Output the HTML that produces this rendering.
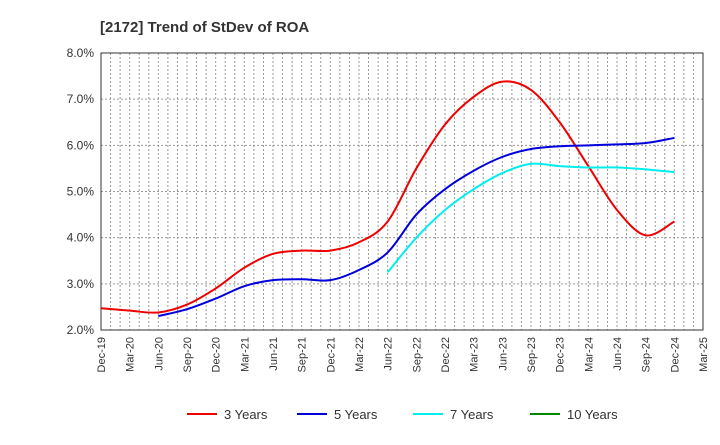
<!DOCTYPE html>
<html><head><meta charset="utf-8"><style>
body{margin:0;background:#fff;font-family:"Liberation Sans",Arial,sans-serif}
</style></head><body>
<svg id="c" width="720" height="440" xmlns="http://www.w3.org/2000/svg">
<text x="100" y="32" font-size="15" font-weight="bold" fill="#333">[2172]  Trend of StDev of ROA</text>
<g id="grid"></g><g id="axes"></g><g id="series"></g><g id="legend"></g>
</svg>
<script>
const xLabels=["Dec-19","Mar-20","Jun-20","Sep-20","Dec-20","Mar-21","Jun-21","Sep-21","Dec-21","Mar-22","Jun-22","Sep-22","Dec-22","Mar-23","Jun-23","Sep-23","Dec-23","Mar-24","Jun-24","Sep-24","Dec-24","Mar-25"];
const yTicks=[2,3,4,5,6,7,8];
const red=[2.47,2.42,2.38,2.55,2.9,3.35,3.65,3.72,3.72,3.9,4.35,5.5,6.45,7.05,7.38,7.2,6.5,5.55,4.6,4.05,4.35];
const blue=[null,null,2.3,2.45,2.68,2.95,3.08,3.1,3.08,3.3,3.68,4.5,5.05,5.45,5.75,5.92,5.98,6.0,6.02,6.05,6.16];
const cyan=[null,null,null,null,null,null,null,null,null,null,3.25,4.0,4.6,5.05,5.4,5.6,5.55,5.52,5.52,5.48,5.42];
const green=[];
const L=101,R=703,T=53,B=330,NS="http://www.w3.org/2000/svg";
const xs=i=>L+(R-L)*i/(xLabels.length-1);
const ys=v=>B-(v-2)/6*(B-T);
function mk(tag,a,p){const e=document.createElementNS(NS,tag);for(const k in a)e.setAttribute(k,a[k]);p.appendChild(e);return e;}
const g=document.getElementById('grid'),ax=document.getElementById('axes'),s=document.getElementById('series'),lg=document.getElementById('legend');
for(let m=1;m<(xLabels.length-1)*3;m++){const x=L+(R-L)*m/((xLabels.length-1)*3);
const l=mk('line',{x1:x,x2:x,y1:T,y2:B,stroke:'#999','stroke-dasharray':'2,2','stroke-width':1},g);

}
yTicks.forEach(v=>{const y=ys(v);
const l=mk('line',{x1:L,x2:R,y1:y,y2:y,stroke:'#999','stroke-dasharray':'2,2','stroke-width':1},g);


const t=mk('text',{x:L-7,y:y+4,'text-anchor':'end','font-size':12,fill:'#333'},ax);t.textContent=v.toFixed(1)+'%';

});
const fr=mk('rect',{x:L,y:T,width:R-L,height:B-T,fill:'none',stroke:'#333','stroke-width':1},ax);


xLabels.forEach((lab,i)=>{const x=xs(i);const t=mk('text',{transform:`translate(${x+4},${B+7}) rotate(-90)`,'text-anchor':'end','font-size':11,fill:'#333'},ax);t.textContent=lab;

});
function path(arr){const p=[];arr.forEach((v,i)=>{if(v!=null)p.push([xs(i),ys(v)]);});if(p.length<2)return '';
let d=`M${p[0][0]},${p[0][1]}`;for(let i=0;i<p.length-1;i++){const p0=p[Math.max(0,i-1)],p1=p[i],p2=p[i+1],p3=p[Math.min(p.length-1,i+2)];
d+=` C${p1[0]+(p2[0]-p0[0])/6},${p1[1]+(p2[1]-p0[1])/6} ${p2[0]-(p3[0]-p1[0])/6},${p2[1]-(p3[1]-p1[1])/6} ${p2[0]},${p2[1]}`;}return d;}
const ser=[[red,'#ee0000','3 Years',187],[blue,'#0000dd','5 Years',297],[cyan,'#00eeee','7 Years',413],[green,'#008800','10 Years',530]];
ser.forEach(([arr,c,n,lx])=>{const d=path(arr);if(d){const e=mk('path',{d:d,fill:'none',stroke:c,'stroke-width':2},s);

}
const ln=mk('line',{x1:lx,x2:lx+30,y1:414,y2:414,stroke:c,'stroke-width':2},lg);


const t=mk('text',{x:lx+37,y:419,'font-size':13,fill:'#333'},lg);t.textContent=n;

});
</script>
</body></html>
